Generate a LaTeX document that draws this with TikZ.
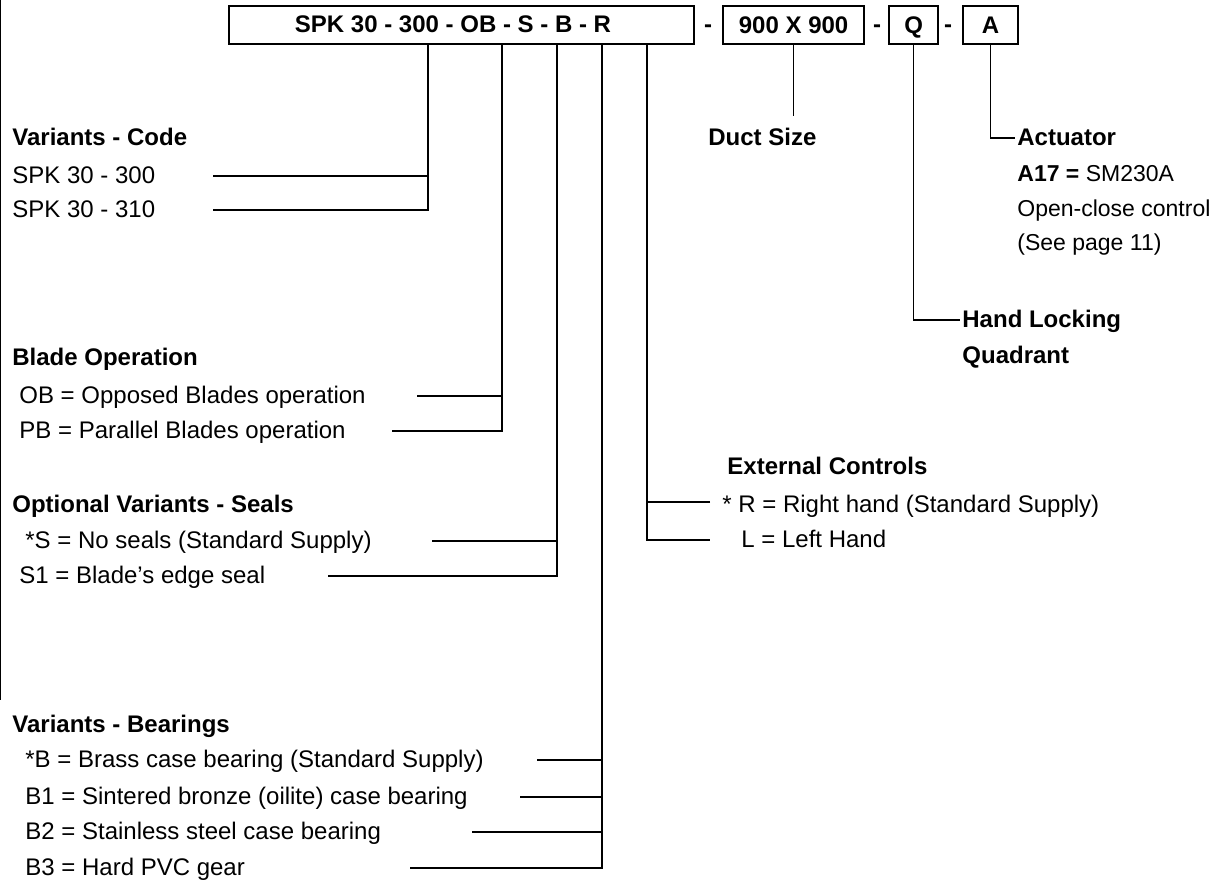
\documentclass[tikz,border=0pt]{standalone}
\usepackage{fontspec}
\setmainfont{Liberation Sans}

\tikzset{
  codebox/.style={draw, line width=1.1pt, minimum height=19pt, inner sep=0pt, anchor=north west,
    font=\bfseries\fontsize{12}{14}\selectfont, text height=8.6pt, text depth=0pt},
  codetext/.style={font=\bfseries\fontsize{12}{14}\selectfont, inner sep=0pt,
    text height=8.6pt, text depth=0pt},
  headtext/.style={font=\bfseries\fontsize{12}{14}\selectfont, anchor=base west, inner sep=0pt},
  itemtext/.style={font=\fontsize{12}{14}\selectfont, anchor=base west, inner sep=0pt},
  smalltext/.style={font=\fontsize{11.5}{13}\selectfont, anchor=base west, inner sep=0pt},
  leader/.style={line width=0.65pt},
}

\begin{document}
\begin{tikzpicture}[x=0.5pt, y=-0.5pt]
  \useasboundingbox (0,0) rectangle (1214,880);

  % page edge
  \draw[leader] (0.6,0) -- (0.6,700);

  % ordering code boxes
  \node[codebox, minimum width=232.5pt] (mainbox) at (228,5) {};
  \node[codetext] (maintext) at (453,24) {SPK 30 - 300 - OB - S - B - R};
  \node[codetext] (dashone) at (708,24) {-};
  \node[codebox, minimum width=70.5pt] (sizebox) at (722,5) {900 X 900};
  \node[codetext] (dashtwo) at (877,24) {-};
  \node[codebox, minimum width=24.5pt] (qbox) at (888,5) {Q};
  \node[codetext] (dashthree) at (948,24) {-};
  \node[codebox, minimum width=27.5pt] (abox) at (962,5) {A};

  % taps under the main box
  \coordinate (tapcode) at (428,43);
  \coordinate (tapblade) at (502,43);
  \coordinate (tapseal) at (557,43);
  \coordinate (tapbear) at (602,43);
  \coordinate (tapcontrol) at (647,43);

  % variants - code
  \node[headtext] (codehead) at (12,145) {Variants - Code};
  \node[itemtext] (codethree) at (12,183) {SPK 30 - 300};
  \node[itemtext] (codeten) at (12,217) {SPK 30 - 310};
  \coordinate (codethreeend) at (213,176);
  \coordinate (codetenend) at (213,210);
  \draw[leader] (tapcode) |- (codetenend);
  \draw[leader] (codethreeend) -- (codethreeend -| tapcode);

  % blade operation
  \node[headtext] (bladehead) at (12,365) {Blade Operation};
  \node[itemtext] (bladeob) at (19,403) {OB = Opposed Blades operation};
  \node[itemtext] (bladepb) at (19,438) {PB = Parallel Blades operation};
  \coordinate (bladeobend) at (417,396);
  \coordinate (bladepbend) at (392,431);
  \draw[leader] (tapblade) |- (bladepbend);
  \draw[leader] (bladeobend) -- (bladeobend -| tapblade);

  % seals
  \node[headtext] (sealhead) at (12,512) {Optional Variants - Seals};
  \node[itemtext] (seals) at (25,548) {*S = No seals (Standard Supply)};
  \node[itemtext] (sealsone) at (19,583) {S1 = Blade's edge seal};
  \coordinate (sealsend) at (432,541);
  \coordinate (sealsoneend) at (328,576);
  \draw[leader] (tapseal) |- (sealsoneend);
  \draw[leader] (sealsend) -- (sealsend -| tapseal);

  % bearings
  \node[headtext] (bearhead) at (12,732) {Variants - Bearings};
  \node[itemtext] (bearb) at (25,767) {*B = Brass case bearing (Standard Supply)};
  \node[itemtext] (bearbone) at (25,804) {B1 = Sintered bronze (oilite) case bearing};
  \node[itemtext] (bearbtwo) at (25,839) {B2 = Stainless steel case bearing};
  \node[itemtext] (bearbthree) at (25,875) {B3 = Hard PVC gear};
  \coordinate (bearbend) at (537,760);
  \coordinate (bearboneend) at (520,797);
  \coordinate (bearbtwoend) at (472,832);
  \coordinate (bearbthreeend) at (410,868);
  \draw[leader] (tapbear) |- (bearbthreeend);
  \foreach \e in {bearbend, bearboneend, bearbtwoend}
    \draw[leader] (\e) -- (\e -| tapbear);

  % external controls
  \node[headtext] (controlhead) at (727,474) {External Controls};
  \node[itemtext] (controlr) at (722,512) {* R = Right hand (Standard Supply)};
  \node[itemtext] (controll) at (741,547) {L = Left Hand};
  \coordinate (controlrend) at (710,502);
  \coordinate (controllend) at (710,540);
  \draw[leader] (tapcontrol) |- (controllend);
  \draw[leader] (controlrend) -| (tapcontrol);

  % duct size
  \coordinate (sizeend) at (792.5,116);
  \draw[leader] (sizebox.south) -- (sizebox.south |- sizeend);
  \node[headtext] (sizehead) at (708,145) {Duct Size};

  % hand locking quadrant
  \coordinate (qend) at (960,320);
  \draw[leader] (qbox.south) |- (qend);
  \node[headtext] (qhead) at (962,327) {Hand Locking};
  \node[headtext] (qheadtwo) at (962,363) {Quadrant};

  % actuator
  \coordinate (aend) at (1015,138);
  \draw[leader] (abox.south) |- (aend);
  \node[headtext] (ahead) at (1017,145) {Actuator};
  \node[smalltext] (amodel) at (1017,181) {\textbf{A17 =} SM230A};
  \node[smalltext] (acontrol) at (1017,216) {Open-close control};
  \node[smalltext] (apage) at (1017,250) {(See page 11)};

\end{tikzpicture}
\end{document}
